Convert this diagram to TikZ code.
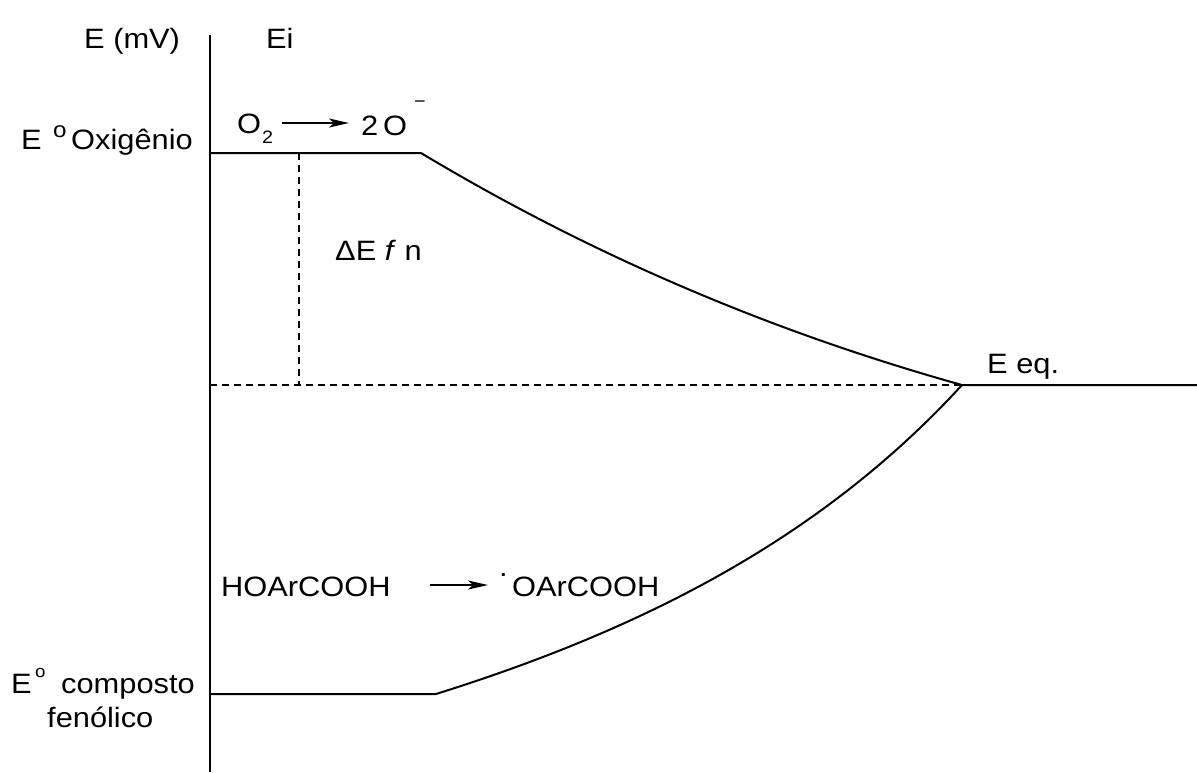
\documentclass[tikz,border=0pt]{standalone}
\usepackage{fontspec}
\setmainfont{Liberation Sans}[FakeStretch=1.1]
\usetikzlibrary{arrows.meta}
\begin{document}
\begin{tikzpicture}[x=1pt,y=-1pt,
  lbl/.style={inner sep=0pt, anchor=base west, font=\fontsize{28}{34}\selectfont},
  suplbl/.style={inner sep=0pt, anchor=base west, font=\fontsize{#1}{#1}\selectfont},
  axisline/.style={line width=2pt},
  level/.style={line width=2pt, line join=round},
  guide/.style={line width=1.6pt, dash pattern=on 7pt off 5pt},
  rxn/.style={line width=2pt, -{Stealth[length=20pt,width=9pt,inset=5pt]}}]
\useasboundingbox (0,0) rectangle (1197,772);

% key points of the energy diagram
\coordinate (axtop) at (210,35);
\coordinate (axbot) at (210,772);
\coordinate (oxL)   at (210,153);
\coordinate (oxR)   at (421,153);
\coordinate (eq)    at (962,385);
\coordinate (eqR)   at (1197,385);
\coordinate (eqL)   at (210,385);
\coordinate (dnTop) at (299,153);
\coordinate (dnBot) at (299,385);
\coordinate (phL)   at (210,694);
\coordinate (phR)   at (436,694);
\coordinate (a1s)   at (282,123);
\coordinate (a1e)   at (349,123);
\coordinate (a2s)   at (430,585);
\coordinate (a2e)   at (488,585);

% potential axis
\draw[axisline] (axtop) -- (axbot);

% oxygen level relaxing to the equilibrium potential
\draw[level] (oxL) -- (oxR) .. controls (601,261) and (783,335) .. (eq) -- (eqR);
% phenolic compound level rising to the equilibrium potential
\draw[level] (phL) -- (phR) .. controls (640,630) and (820,540) .. (eq);

% equilibrium guide and potential difference
\draw[guide] (eqL) -- (eq);
\draw[guide] (dnTop) -- (dnBot);

% reaction arrows
\draw[rxn] (a1s) -- (a1e);
\draw[rxn] (a2s) -- (a2e);

% labels
\node[lbl] (emv) at (84,48) {E (mV)};
\node[lbl] (ei)  at (266,48) {Ei};
\node[lbl] (eox) at (21,149) {E};
\node[suplbl=22] (eoxsup) at (53,137) {o};
\node[lbl] (oxi) at (71,149) {Oxigênio};

\node[lbl] (o2) at (237,133) {O};
\node[suplbl=18] (o2sub) at (262,143) {2};
\node[lbl] (two) at (361,135) {2};
\node[lbl] (bigO) at (383,135) {O};
\node[inner sep=0pt, font=\fontsize{18}{18}\selectfont] (minus) at (420,104) {−};

\node[lbl] (dE) at (335,260) {ΔE \textit{f} n};
\node[lbl] (eeq) at (987,373) {E eq.};

\node[lbl] (hoar) at (221,596) {HOArCOOH};
\node[lbl] (dot) at (499,576) {.};
\node[lbl] (oar) at (512,596) {OArCOOH};

\node[lbl] (ecomp) at (11,693) {E};
\node[suplbl=17] (ecsup) at (35,677) {o};
\node[lbl] (comp) at (61,693) {composto};
\node[lbl] (fen) at (47,727) {fenólico};
\end{tikzpicture}
\end{document}
